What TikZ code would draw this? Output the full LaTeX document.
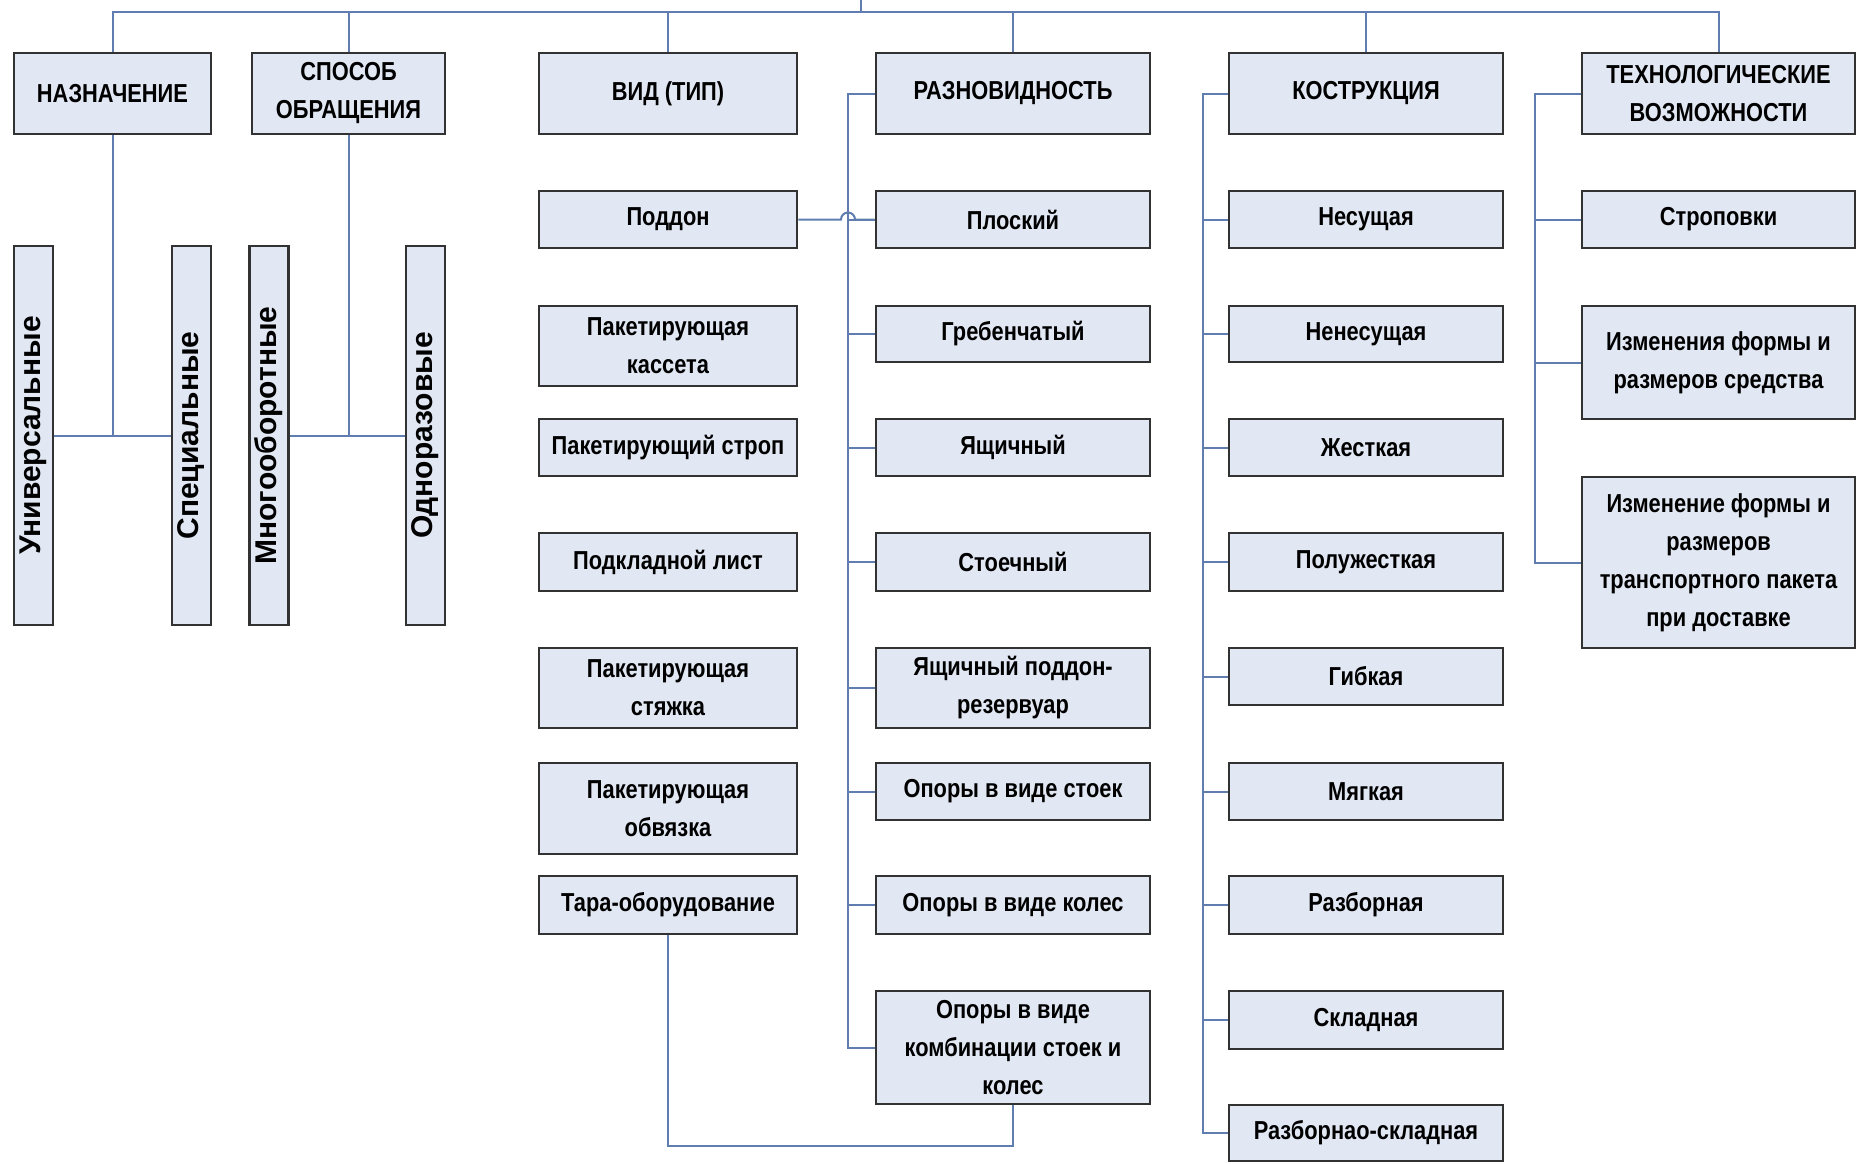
\documentclass[tikz,border=0pt]{standalone}
\usepackage{fontspec}
\setmainfont{Liberation Sans}[FakeStretch=0.84]
\newfontfamily\vertfont{Liberation Sans}
\definecolor{boxfill}{RGB}{226,232,243}
\definecolor{boxline}{RGB}{50,50,50}
\definecolor{linkcol}{RGB}{95,125,175}
\begin{document}
\begin{tikzpicture}[x=0.5pt,y=-0.5pt,
  box/.style={draw=boxline, fill=boxfill, line width=1.4pt, align=center, inner sep=1pt,
    text=black, font=\bfseries\fontsize{13}{19}\selectfont},
  vbox/.style={draw=boxline, fill=boxfill, line width=1.4pt, inner sep=0pt, rotate=90,
    minimum width=189.5pt, minimum height=19.5pt, text=black,
    font=\vertfont\bfseries\fontsize{15}{18}\selectfont},
  link/.style={draw=linkcol, line width=1pt},
  hd/.style={box, minimum height=40.5pt},
  colA/.style={box, minimum width=129pt},
  colB/.style={box, minimum width=137pt},
]
\fill[white] (0,0) rectangle (1857,1163);
\useasboundingbox (0,0) rectangle (1857,1163);

% headers
\node[hd, minimum width=98.5pt] (h1) at (112.5,93.5) {НАЗНАЧЕНИЕ};
\node[hd, minimum width=96.5pt] (h2) at (348.5,93.5) {СПОСОБ\\ОБРАЩЕНИЯ};
\node[hd, minimum width=129pt] (h3) at (668,93.5) {ВИД (ТИП)};
\node[hd, minimum width=137pt] (h4) at (1013,93.5) {РАЗНОВИДНОСТЬ};
\node[hd, minimum width=137pt] (h5) at (1366,93.5) {КОСТРУКЦИЯ};
\node[hd, minimum width=136.5pt] (h6) at (1718.5,93.5) {ТЕХНОЛОГИЧЕСКИЕ\\ВОЗМОЖНОСТИ};

% vertical boxes
\node[vbox] (v1) at (33.5,435.5) {Универсальные};
\node[vbox] (v2) at (191.5,435.5) {Специальные};
\node[vbox] (v3) at (269,435.5) {Многооборотные};
\node[vbox] (v4) at (425.5,435.5) {Одноразовые};

% column A
\node[colA, minimum height=28.5pt] (a1) at (668,219.5) {Поддон};
\node[colA, minimum height=40pt] (a2) at (668,346) {Пакетирующая\\кассета};
\node[colA, minimum height=28.5pt] (a3) at (668,447.5) {Пакетирующий строп};
\node[colA, minimum height=29pt] (a4) at (668,562) {Подкладной лист};
\node[colA, minimum height=40pt] (a5) at (668,688) {Пакетирующая\\стяжка};
\node[colA, minimum height=45.5pt] (a6) at (668,808.5) {Пакетирующая\\обвязка};
\node[colA, minimum height=29pt] (a7) at (668,905) {Тара-оборудование};

% column B
\node[colB, minimum height=28.5pt] (b1) at (1013,219.5) {Плоский};
\node[colB, minimum height=28pt] (b2) at (1013,334) {Гребенчатый};
\node[colB, minimum height=28.5pt] (b3) at (1013,447.5) {Ящичный};
\node[colB, minimum height=29pt] (b4) at (1013,562) {Стоечный};
\node[colB, minimum height=40pt] (b5) at (1013,688) {Ящичный поддон-\\резервуар};
\node[colB, minimum height=28.5pt] (b6) at (1013,791.5) {Опоры в виде стоек};
\node[colB, minimum height=29pt] (b7) at (1013,905) {Опоры в виде колес};
\node[colB, minimum height=56.5pt] (b8) at (1013,1047.5) {Опоры в виде\\комбинации стоек и\\колес};

% column C
\node[colB, minimum height=28.5pt] (c1) at (1366,219.5) {Несущая};
\node[colB, minimum height=28pt] (c2) at (1366,334) {Ненесущая};
\node[colB, minimum height=28.5pt] (c3) at (1366,447.5) {Жесткая};
\node[colB, minimum height=29pt] (c4) at (1366,562) {Полужесткая};
\node[colB, minimum height=28.5pt] (c5) at (1366,676.5) {Гибкая};
\node[colB, minimum height=28.5pt] (c6) at (1366,791.5) {Мягкая};
\node[colB, minimum height=29pt] (c7) at (1366,905) {Разборная};
\node[colB, minimum height=29pt] (c8) at (1366,1020) {Складная};
\node[colB, minimum height=28pt] (c9) at (1366,1133) {Разборнао-складная};

% column D
\node[box, minimum width=136.5pt, minimum height=28.5pt] (d1) at (1718.5,219.5) {Строповки};
\node[box, minimum width=136.5pt, minimum height=56.5pt] (d2) at (1718.5,362.5) {Изменения формы и\\размеров средства};
\node[box, minimum width=136.5pt, minimum height=85.5pt] (d3) at (1718.5,562.5) {Изменение формы и\\размеров\\транспортного пакета\\при доставке};

% top bus
\coordinate (root) at (861,0);
\coordinate (top) at (861,12);
\draw[link] (root) -- (top);
\draw[link] (h1.north) |- (h6.north |- top) -- (h6.north);
\foreach \n in {h2,h3,h4,h5} \draw[link] (\n.north) -- (\n.north |- top);

% left groups
\draw[link] (h1.south) -- (h1.south |- v1.center);
\draw[link] (v1) -- (v2);
\draw[link] (h2.south) -- (h2.south |- v3.center);
\draw[link] (v3) -- (v4);

% bus for column B
\coordinate (rbus) at (848,0);
\draw[link] (h4.west) -| (rbus |- b8.west) -- (b8.west);
\foreach \n in {b1,b2,b3,b4,b5,b6,b7} \draw[link] (\n.west) -- (rbus |- \n.west);

% bus for column C
\coordinate (kbus) at (1203,0);
\draw[link] (h5.west) -| (kbus |- c9.west) -- (c9.west);
\foreach \n in {c1,c2,c3,c4,c5,c6,c7,c8} \draw[link] (\n.west) -- (kbus |- \n.west);

% bus for column D
\coordinate (tbus) at (1535,0);
\draw[link] (h6.west) -| (tbus |- d3.west) -- (d3.west);
\foreach \n in {d1,d2} \draw[link] (\n.west) -- (tbus |- \n.west);

% Поддон -> Плоский with hop
\draw[link] (a1.east) -- ([xshift=-3.5pt]rbus |- a1.east) arc[start angle=180, end angle=0, radius=3.5pt] -- (b1.west);

% Тара-оборудование -> комбинации
\coordinate (tb) at (668,1146);
\draw[link] (a7.south) -- (tb) -| (b8.south);
\end{tikzpicture}
\end{document}
